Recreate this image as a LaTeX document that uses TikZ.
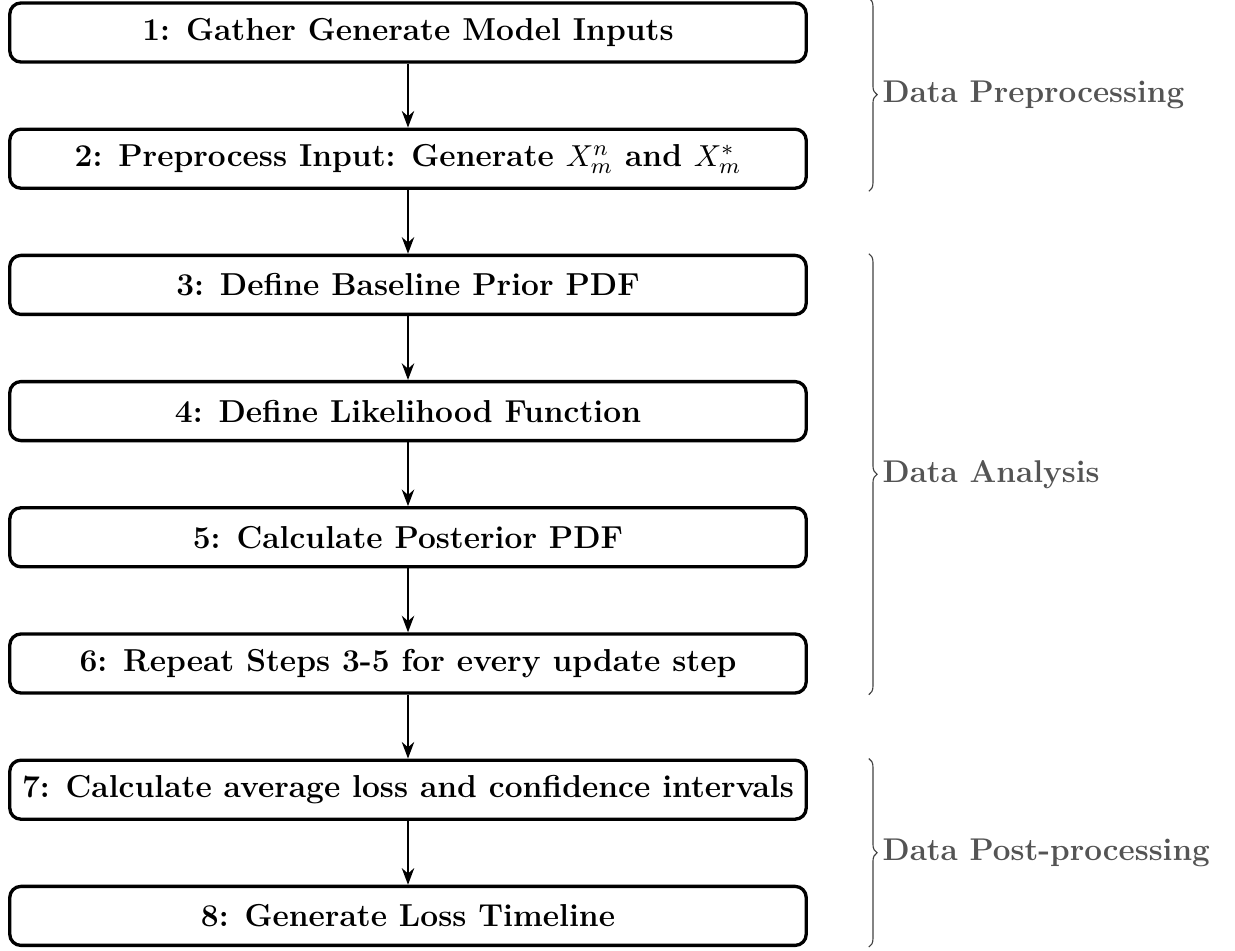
\documentclass[tikz,border=0pt]{standalone}
\usetikzlibrary{arrows.meta,decorations.pathreplacing}
\begin{document}
\begin{tikzpicture}[x=0.361pt,y=-0.361pt,
  stepbox/.style={draw,very thick,rounded corners=4pt,minimum width=287.5pt,minimum height=21.3pt,inner sep=0pt,font=\fontsize{11.45}{14}\selectfont\bfseries},
  flow/.style={-{Stealth[length=6pt,width=4.5pt]},semithick},
  grp/.style={decorate,decoration={brace,amplitude=3pt},thin,black!75},
  grplabel/.style={anchor=west,font=\fontsize{11.35}{14}\selectfont\bfseries,text=black!67,inner sep=0pt,xshift=4.8pt}]
\useasboundingbox (0,0) rectangle (1235,951);
\node[stepbox] (s1) at (408,32.5) {1: Gather Generate Model Inputs};
\node[stepbox] (s2) at (408,158.7) {2: Preprocess Input: Generate $X_m^n$ and $X_m^*$};
\node[stepbox] (s3) at (408,284.9) {3: Define Baseline Prior PDF};
\node[stepbox] (s4) at (408,411.1) {4: Define Likelihood Function};
\node[stepbox] (s5) at (408,537.3) {5: Calculate Posterior PDF};
\node[stepbox] (s6) at (408,663.5) {6: Repeat Steps 3-5 for every update step};
\node[stepbox] (s7) at (408,789.7) {7: Calculate average loss and confidence intervals};
\node[stepbox] (s8) at (408,915.9) {8: Generate Loss Timeline};
\draw[flow] (s1) -- (s2);
\draw[flow] (s2) -- (s3);
\draw[flow] (s3) -- (s4);
\draw[flow] (s4) -- (s5);
\draw[flow] (s5) -- (s6);
\draw[flow] (s6) -- (s7);
\draw[flow] (s7) -- (s8);
\draw[grp] ([xshift=22pt,yshift=1.2pt]s1.north east) -- ([xshift=22pt,yshift=-0.5pt]s2.south east)
  node[grplabel,midway] {Data Preprocessing};
\draw[grp] ([xshift=22pt]s3.north east) -- ([xshift=22pt]s6.south east)
  node[grplabel,midway] {Data Analysis};
\draw[grp] ([xshift=22pt]s7.north east) -- ([xshift=22pt]s8.south east)
  node[grplabel,midway] {Data Post-processing};
\end{tikzpicture}
\end{document}
